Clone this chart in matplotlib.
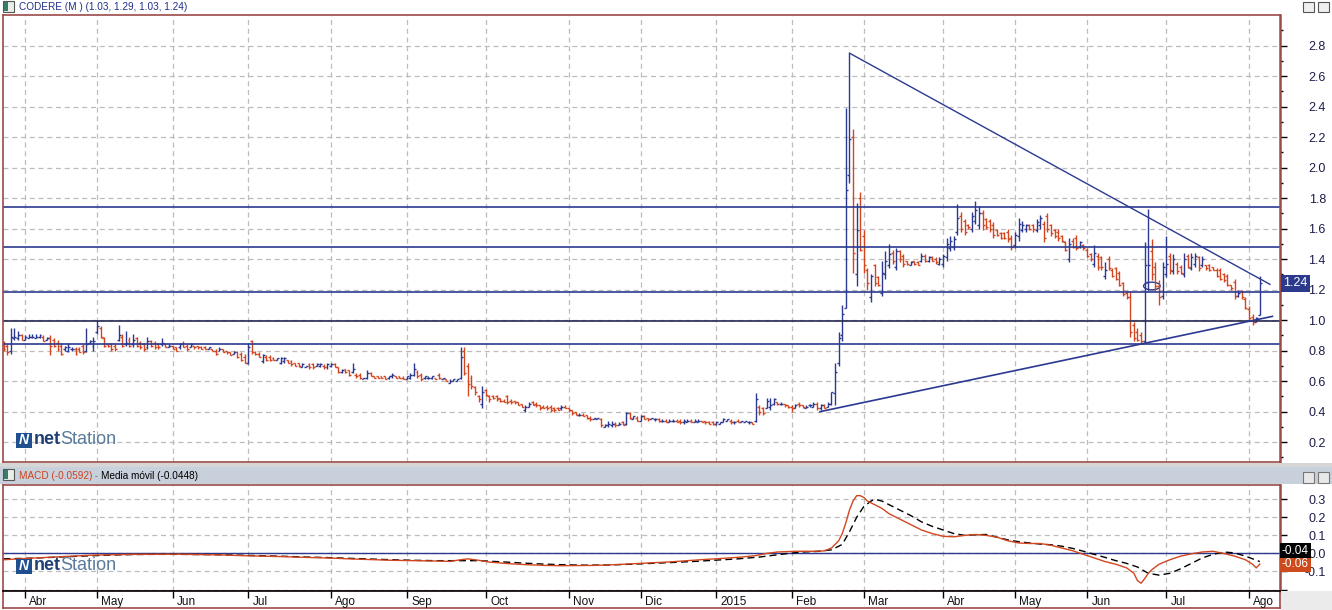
import matplotlib.pyplot as plt
from matplotlib.patches import Rectangle, Ellipse
from matplotlib.transforms import blended_transform_factory
import numpy as np

plt.rcParams['font.family'] = ['Liberation Sans', 'DejaVu Sans']
plt.rcParams['axes.unicode_minus'] = False

# daily OHLC bars, CODERE
opens = [
    .85, .83, .80, .88, .88, .90, .87, .88, .89, .88,
    .89, .89, .87, .88, .87, .85, .83, .81, .80, .81,
    .81, .81, .83, .80, .85, .83, .92, .95, .88, .84,
    .84, .83, .87, .89, .84, .87, .84, .88, .85, .84,
    .82, .86, .85, .84, .84, .84, .82, .83, .82, .82,
    .85, .83, .82, .83, .83, .82, .82, .81, .81, .80,
    .80, .81, .80, .79, .78, .79, .78, .76, .72, .86,
    .79, .78, .73, .76, .76, .75, .74, .72, .73, .74,
    .73, .72, .72, .69, .69, .71, .71, .70, .70, .70,
    .69, .70, .71, .69, .66, .68, .67, .66, .64, .64,
    .61, .62, .65, .63, .63, .63, .63, .62, .63, .63,
    .63, .62, .61, .62, .64, .66, .64, .62, .62, .62,
    .62, .64, .61, .61, .59, .60, .60, .62, .80, .70,
    .62, .56, .50, .45, .54, .50, .50, .50, .49, .47,
    .50, .47, .47, .46, .45, .41, .43, .46, .45, .44,
    .43, .43, .43, .42, .42, .42, .43, .42, .41, .40,
    .38, .38, .38, .36, .35, .35, .35, .30, .31, .31,
    .32, .31, .33, .32, .39, .35, .36, .34, .37, .36,
    .35, .35, .35, .34, .34, .33, .34, .34, .34, .33,
    .33, .34, .33, .33, .34, .34, .33, .33, .32, .32,
    .33, .34, .34, .33, .34, .33, .33, .33, .33, .34,
    .43, .42, .42, .43, .45, .46, .45, .45, .44, .43,
    .42, .45, .44, .42, .44, .43, .45, .42, .44, .43,
    .45, .52, .72, .90, 1.08, 1.95, 2.20, 1.30, 1.80, 1.55,
    1.33, 1.15, 1.36, 1.28, 1.18, 1.30, 1.36, 1.44, 1.35, 1.45,
    1.42, 1.39, 1.36, 1.39, 1.38, 1.39, 1.42, 1.39, 1.41, 1.40,
    1.37, 1.37, 1.41, 1.47, 1.48, 1.58, 1.68, 1.65, 1.62, 1.60,
    1.65, 1.62, 1.70, 1.66, 1.65, 1.62, 1.59, 1.57, 1.57, 1.58,
    1.54, 1.49, 1.55, 1.59, 1.60, 1.62, 1.62, 1.59, 1.62, 1.63,
    1.68, 1.62, 1.59, 1.58, 1.55, 1.51, 1.40, 1.52, 1.54, 1.48,
    1.49, 1.46, 1.43, 1.37, 1.42, 1.41, 1.29, 1.40, 1.33, 1.34,
    1.31, 1.24, 1.18, 1.15, .97, .92, .90, .86, 1.25, 1.45,
    1.35, 1.22, 1.16, 1.30, 1.42, 1.32, 1.37, 1.35, 1.30, 1.42,
    1.34, 1.37, 1.41, 1.36, 1.36, 1.36, 1.35, 1.33, 1.33, 1.30,
    1.29, 1.23, 1.25, 1.16, 1.19, 1.14, 1.07, 1.02, .99, 1.03,
]
highs = [
    .86, .84, .95, .95, .93, .91, .90, .91, .91, .91,
    .91, .90, .89, .90, .88, .87, .85, .83, .85, .82,
    .82, .82, .84, .95, .87, .89, 1.00, .96, .89, .85,
    .85, .84, .97, .91, .93, .89, .91, .89, .86, .85,
    .89, .87, .86, .85, .88, .84, .84, .83, .82, .85,
    .86, .84, .85, .83, .83, .83, .83, .82, .81, .81,
    .82, .81, .80, .79, .80, .80, .79, .78, .85, .87,
    .80, .79, .78, .77, .77, .76, .75, .76, .76, .74,
    .74, .72, .72, .72, .70, .72, .72, .72, .72, .71,
    .72, .72, .72, .69, .68, .68, .67, .72, .65, .65,
    .62, .67, .66, .63, .63, .63, .63, .63, .65, .63,
    .63, .63, .63, .65, .72, .67, .65, .63, .63, .63,
    .62, .65, .62, .61, .61, .61, .61, .82, .82, .72,
    .64, .57, .51, .57, .55, .51, .51, .51, .49, .48,
    .51, .48, .47, .46, .45, .44, .46, .47, .46, .44,
    .44, .44, .44, .43, .43, .44, .44, .42, .41, .40,
    .39, .39, .38, .37, .36, .36, .36, .32, .34, .34,
    .33, .33, .34, .40, .40, .37, .37, .38, .38, .36,
    .36, .36, .36, .35, .35, .35, .35, .35, .35, .35,
    .35, .35, .35, .35, .34, .34, .34, .34, .34, .33,
    .36, .35, .35, .34, .35, .34, .34, .34, .33, .52,
    .44, .43, .49, .49, .49, .46, .46, .45, .44, .44,
    .45, .46, .44, .44, .45, .46, .46, .45, .45, .46,
    .53, .72, .92, 1.10, 2.39, 2.75, 2.25, 1.77, 1.84, 1.59,
    1.34, 1.30, 1.37, 1.29, 1.39, 1.45, 1.50, 1.46, 1.47, 1.46,
    1.43, 1.39, 1.39, 1.39, 1.39, 1.44, 1.43, 1.42, 1.42, 1.41,
    1.41, 1.43, 1.54, 1.55, 1.55, 1.76, 1.71, 1.66, 1.63, 1.71,
    1.78, 1.75, 1.72, 1.67, 1.66, 1.64, 1.60, 1.58, 1.58, 1.60,
    1.56, 1.58, 1.67, 1.65, 1.63, 1.63, 1.63, 1.66, 1.69, 1.65,
    1.70, 1.63, 1.60, 1.60, 1.56, 1.52, 1.54, 1.54, 1.56, 1.52,
    1.50, 1.47, 1.44, 1.49, 1.44, 1.42, 1.38, 1.42, 1.34, 1.35,
    1.32, 1.25, 1.19, 1.19, .99, .95, .92, 1.51, 1.73, 1.53,
    1.38, 1.26, 1.38, 1.55, 1.44, 1.43, 1.38, 1.36, 1.44, 1.43,
    1.44, 1.44, 1.42, 1.42, 1.36, 1.37, 1.35, 1.34, 1.34, 1.31,
    1.30, 1.23, 1.27, 1.20, 1.20, 1.15, 1.09, 1.04, 1.02, 1.29,
]
lows = [
    .80, .77, .78, .87, .87, .87, .87, .88, .88, .88,
    .88, .86, .87, .77, .82, .80, .77, .80, .79, .80,
    .77, .79, .78, .79, .84, .80, .91, .88, .82, .82,
    .80, .80, .86, .82, .83, .82, .82, .82, .81, .80,
    .81, .82, .81, .81, .83, .82, .82, .81, .80, .81,
    .82, .80, .82, .81, .81, .81, .81, .81, .80, .77,
    .80, .79, .78, .77, .78, .75, .73, .72, .71, .78,
    .77, .76, .72, .73, .73, .74, .74, .71, .72, .72,
    .70, .70, .69, .69, .69, .68, .68, .70, .69, .68,
    .68, .69, .69, .65, .65, .65, .63, .65, .62, .61,
    .61, .61, .63, .62, .62, .62, .61, .61, .62, .62,
    .62, .61, .61, .61, .63, .62, .60, .61, .61, .61,
    .61, .61, .61, .60, .59, .60, .60, .61, .64, .50,
    .55, .51, .46, .42, .50, .46, .48, .47, .46, .46,
    .45, .45, .45, .44, .43, .40, .43, .44, .43, .41,
    .42, .41, .40, .40, .41, .41, .42, .40, .38, .38,
    .37, .37, .35, .34, .35, .35, .30, .30, .30, .30,
    .30, .31, .31, .31, .35, .35, .34, .34, .35, .34,
    .35, .34, .33, .33, .33, .33, .33, .33, .32, .32,
    .33, .33, .33, .33, .33, .32, .32, .31, .31, .32,
    .33, .34, .32, .32, .33, .33, .33, .32, .32, .33,
    .38, .38, .42, .41, .44, .44, .44, .43, .42, .40,
    .42, .43, .42, .42, .43, .43, .41, .41, .42, .43,
    .44, .44, .70, .86, 1.08, 1.90, 1.31, 1.22, 1.45, 1.31,
    1.20, 1.12, 1.22, 1.22, 1.16, 1.27, 1.34, 1.37, 1.33, 1.38,
    1.35, 1.36, 1.36, 1.36, 1.36, 1.38, 1.38, 1.38, 1.39, 1.37,
    1.36, 1.35, 1.39, 1.45, 1.46, 1.56, 1.58, 1.56, 1.60, 1.58,
    1.63, 1.60, 1.59, 1.60, 1.58, 1.54, 1.55, 1.53, 1.53, 1.51,
    1.46, 1.47, 1.52, 1.58, 1.58, 1.59, 1.58, 1.58, 1.60, 1.51,
    1.58, 1.55, 1.54, 1.52, 1.51, 1.45, 1.38, 1.47, 1.46, 1.47,
    1.46, 1.41, 1.39, 1.35, 1.33, 1.33, 1.27, 1.33, 1.28, 1.26,
    1.22, 1.16, 1.14, .89, .86, .86, .85, .85, 1.19, 1.26,
    1.19, 1.10, 1.14, 1.28, 1.30, 1.30, 1.30, 1.30, 1.28, 1.34,
    1.33, 1.35, 1.32, 1.35, 1.33, 1.32, 1.33, 1.28, 1.26, 1.25,
    1.22, 1.20, 1.14, 1.15, 1.14, 1.07, 1.00, .97, .99, 1.03,
]
closes = [
    .81, .79, .89, .89, .90, .87, .89, .89, .89, .89,
    .90, .86, .88, .83, .83, .81, .78, .82, .82, .81,
    .78, .79, .79, .84, .86, .86, .96, .89, .83, .83,
    .81, .81, .90, .83, .85, .83, .87, .83, .82, .81,
    .86, .83, .82, .82, .85, .82, .83, .81, .80, .84,
    .82, .81, .84, .82, .82, .81, .81, .82, .80, .78,
    .81, .79, .79, .77, .79, .76, .74, .72, .82, .79,
    .78, .76, .77, .74, .74, .74, .75, .75, .75, .72,
    .71, .70, .70, .71, .70, .69, .69, .71, .71, .69,
    .71, .71, .69, .66, .67, .66, .64, .68, .63, .62,
    .62, .65, .63, .62, .62, .62, .61, .63, .64, .62,
    .62, .61, .63, .64, .68, .63, .61, .63, .62, .63,
    .61, .62, .62, .60, .60, .61, .61, .76, .65, .58,
    .57, .53, .48, .53, .51, .48, .49, .48, .47, .46,
    .46, .46, .46, .44, .43, .43, .45, .44, .44, .42,
    .42, .42, .41, .41, .41, .43, .42, .41, .39, .38,
    .38, .37, .36, .35, .36, .36, .31, .31, .32, .32,
    .31, .32, .31, .39, .36, .37, .34, .37, .35, .35,
    .36, .35, .34, .34, .33, .34, .34, .33, .33, .34,
    .34, .33, .34, .34, .33, .33, .32, .32, .33, .33,
    .35, .35, .33, .33, .33, .34, .34, .33, .32, .48,
    .40, .39, .47, .44, .48, .45, .45, .44, .43, .42,
    .44, .44, .43, .43, .44, .45, .42, .44, .42, .45,
    .53, .66, .88, 1.04, 1.85, 2.19, 1.44, 1.59, 1.46, 1.36,
    1.24, 1.29, 1.24, 1.23, 1.31, 1.39, 1.43, 1.39, 1.45, 1.40,
    1.37, 1.37, 1.38, 1.37, 1.36, 1.42, 1.39, 1.41, 1.39, 1.38,
    1.40, 1.42, 1.50, 1.52, 1.53, 1.67, 1.60, 1.58, 1.61, 1.68,
    1.72, 1.70, 1.62, 1.61, 1.60, 1.56, 1.56, 1.54, 1.54, 1.53,
    1.48, 1.56, 1.63, 1.62, 1.62, 1.60, 1.60, 1.64, 1.67, 1.54,
    1.60, 1.57, 1.55, 1.54, 1.52, 1.46, 1.50, 1.48, 1.47, 1.51,
    1.47, 1.42, 1.40, 1.44, 1.35, 1.35, 1.33, 1.34, 1.29, 1.27,
    1.23, 1.17, 1.15, .92, .88, .87, .86, 1.36, 1.36, 1.30,
    1.22, 1.15, 1.35, 1.37, 1.33, 1.40, 1.32, 1.31, 1.40, 1.35,
    1.41, 1.42, 1.34, 1.40, 1.34, 1.33, 1.33, 1.29, 1.27, 1.26,
    1.23, 1.21, 1.16, 1.18, 1.15, 1.08, 1.01, .99, 1.01, 1.24,
]

month_idx = [6, 26, 47, 68, 91, 112, 134, 157, 177, 198, 219, 239, 261, 281, 301, 323, 346]
month_lbl = ["Abr", "May", "Jun", "Jul", "Ago", "Sep", "Oct", "Nov", "Dic",
             "2015", "Feb", "Mar", "Abr", "May", "Jun", "Jul", "Ago"]

# drawn support / resistance levels and trend lines
levels = [1.739, 1.477, 1.184, 0.845]
level_one = 0.993
trend_down_x = [235, 351.8]
trend_down_y = [2.75, 1.234]
trend_up_x = [226.8, 352.5]
trend_up_y = [0.399, 1.024]
mark_x, mark_y = 319, 1.223

# MACD and its moving average
macd_x = [0, 6, 12, 18, 24, 30, 36, 42, 48, 54, 60, 66, 72, 78, 84, 90, 96, 102, 108, 114,
          120, 124, 127, 129, 132, 135, 140, 145, 150, 155, 160, 165, 170, 175, 180, 185, 190, 195, 200, 205,
          209, 212, 215, 220, 225, 228, 230, 232, 233, 234, 235, 236, 237, 238, 239, 240, 242, 244, 246, 249,
          252, 255, 258, 261, 264, 267, 270, 273, 276, 279, 282, 285, 288, 291, 294, 297, 300, 303, 306, 309,
          312, 314, 315, 316, 317, 318, 319, 321, 324, 327, 330, 333, 336, 339, 342, 345, 347, 348, 349]
macd_y = [-0.035, -0.028, -0.022, -0.016, -0.010, -0.007, -0.005, -0.005, -0.004, -0.006,
          -0.008, -0.012, -0.015, -0.018, -0.022, -0.025, -0.030, -0.034, -0.038, -0.040,
          -0.042, -0.044, -0.035, -0.030, -0.038, -0.048, -0.056, -0.062, -0.066, -0.068,
          -0.067, -0.066, -0.062, -0.057, -0.052, -0.047, -0.040, -0.033, -0.027, -0.020,
          -0.012, 0.0, 0.008, 0.012, 0.012, 0.014, 0.03, 0.07, 0.11, 0.17,
          0.24, 0.29, 0.32, 0.32, 0.31, 0.29, 0.27, 0.25, 0.22, 0.19,
          0.16, 0.13, 0.11, 0.095, 0.092, 0.10, 0.105, 0.10, 0.09, 0.07,
          0.058, 0.055, 0.055, 0.045, 0.03, 0.015, -0.005, -0.025, -0.045, -0.06,
          -0.08, -0.11, -0.15, -0.165, -0.14, -0.11, -0.09, -0.06, -0.035, -0.015,
          -0.002, 0.008, 0.012, 0.0, -0.015, -0.035, -0.06, -0.08, -0.059]
sig_x = [0, 6, 12, 18, 24, 30, 36, 42, 48, 54, 60, 66, 72, 78, 84, 90, 96, 102, 108, 114, 120,
         126, 132, 138, 144, 150, 156, 162, 168, 174, 180, 186, 192, 198, 204, 210, 214, 218, 222, 226, 230,
         233, 235, 237, 239, 241, 242, 244, 246, 249, 252, 255, 258, 261, 264, 267, 270, 273, 276, 279, 282,
         285, 288, 291, 294, 297, 300, 303, 306, 309, 312, 315, 318, 321, 324, 327, 330, 333, 336, 339, 342,
         345, 349]
sig_y = [-0.030, -0.027, -0.023, -0.018, -0.013, -0.009, -0.006, -0.005, -0.005, -0.006,
         -0.007, -0.010, -0.013, -0.016, -0.020, -0.023, -0.027, -0.031, -0.035, -0.038, -0.040,
         -0.040, -0.040, -0.046, -0.053, -0.059, -0.063, -0.065, -0.064, -0.060, -0.055,
         -0.050, -0.044, -0.037, -0.030, -0.020, -0.010, 0.0, 0.008, 0.011, 0.02,
         0.05, 0.12, 0.20, 0.26, 0.29, 0.30, 0.29, 0.27, 0.24, 0.21,
         0.175, 0.15, 0.13, 0.11, 0.10, 0.103, 0.105, 0.09, 0.075, 0.065,
         0.058, 0.052, 0.048, 0.04, 0.028, 0.012, -0.005, -0.022, -0.04, -0.055,
         -0.075, -0.11, -0.12, -0.11, -0.085, -0.055, -0.025, -0.005, 0.008, 0.003,
         -0.015, -0.045]
macd_last, sig_last = -0.0592, -0.0448

BLUE = "#2b3990"
RED = "#d2461f"
FRAME = "#9c4a48"
GRID = "#bdbdbd"
W, H = 1332, 610


def box(l, t, r, b):
    return [l / W, 1 - b / H, (r - l) / W, (b - t) / H]


fig = plt.figure(figsize=(W / 100, H / 100), dpi=100)
fig.patch.set_facecolor("white")

xlim = (-0.14, 354.6)


def frame(a):
    for s in a.spines.values():
        s.set_color(FRAME)
        s.set_linewidth(1.2)
    a.spines["right"].set_linewidth(1.8)


def right_labels(a):
    # labels flush right at the edge of the window, like the terminal does
    a.tick_params(axis="y", which="major", length=5, width=1, pad=28, labelsize=9,
                  labelcolor="#1c1c4a")
    for t in a.get_yticklabels():
        t.set_horizontalalignment("right")


def logo(yc):
    fig.add_artist(Rectangle((16 / W, 1 - (yc + 8) / H), 16 / W, 15 / H,
                             transform=fig.transFigure, fc="#1f4f8f", ec="none"))
    fig.text(24 / W, 1 - yc / H, "N", color="white", fontsize=10, fontweight="bold",
             style="italic", ha="center", va="center")
    fig.text(34 / W, 1 - yc / H, "net", color="#1f4075", fontsize=13,
             fontweight="bold", va="center")
    fig.text(60 / W, 1 - yc / H, "Station", color="#5b7b9b", fontsize=13, va="center")


# ---------------- price panel ----------------
ax = fig.add_axes(box(3, 15, 1280, 462))
x = np.arange(len(closes))
o, h, l, c = map(np.array, (opens, highs, lows, closes))
cols = np.where(c >= o, BLUE, RED)
ax.vlines(x, l, h, colors=cols, lw=1.0)
ax.hlines(o, x - 0.55, x, colors=cols, lw=1.0)
ax.hlines(c, x, x + 0.55, colors=cols, lw=1.0)

for lv in levels:
    ax.axhline(lv, color=BLUE, lw=1.2)
ax.axhline(level_one, color="#26284f", lw=1.2)
ax.plot(trend_down_x, trend_down_y, color=BLUE, lw=1.0)
ax.plot(trend_up_x, trend_up_y, color=BLUE, lw=1.2)
ax.add_patch(Ellipse((mark_x, mark_y), 4.6, 0.05, fill=False, ec=BLUE, lw=1.0))

ax.set_xlim(*xlim)
ax.set_ylim(0.069, 3.0)
ax.set_xticks(month_idx)
yt = np.arange(0.2, 2.81, 0.2)
ax.set_yticks(yt)
ax.set_yticks(np.arange(0.1, 2.95, 0.2), minor=True)
ax.yaxis.tick_right()
ax.set_yticklabels([f"{v:.1f}" for v in yt])
ax.tick_params(axis="x", length=0, labelbottom=False)
ax.tick_params(axis="y", which="minor", length=2.5, width=1)
right_labels(ax)
ax.grid(True, color=GRID, ls=(0, (4, 3)), lw=0.9)
ax.set_axisbelow(True)
frame(ax)

tr = blended_transform_factory(ax.transAxes, ax.transData)
ax.text(1.0025, closes[-1], f"{closes[-1]:.2f}", transform=tr, color="white", fontsize=9,
        va="center", ha="left", clip_on=False,
        bbox=dict(boxstyle="square,pad=0.2", fc="#2b3a8c", ec="none"))

# ---------------- MACD panel ----------------
am = fig.add_axes(box(3, 485, 1280, 591))
am.axhline(0, color=BLUE, lw=1.0)
am.plot(sig_x, sig_y, color="black", lw=1.0, ls=(0, (5, 3)))
am.plot(macd_x, macd_y, color=RED, lw=1.0)
am.set_xlim(*xlim)
am.set_ylim(-0.208, 0.379)
am.set_xticks(month_idx)
mt = [-0.1, 0.0, 0.1, 0.2, 0.3]
am.set_yticks(mt)
am.set_yticks([-0.2], minor=True)
am.yaxis.tick_right()
am.set_yticklabels([f"{v:.1f}" for v in mt])
am.tick_params(axis="x", length=0, labelbottom=False)
am.tick_params(axis="y", which="minor", length=5, width=1)
right_labels(am)
am.grid(True, color=GRID, ls=(0, (4, 3)), lw=0.9)
am.yaxis.grid(True, which="minor", color=GRID, ls=(0, (4, 3)), lw=0.9)
am.set_axisbelow(True)
frame(am)

trm = blended_transform_factory(am.transAxes, am.transData)
am.text(1.0015, macd_last, "-0.06", transform=trm, color="white", fontsize=8.5,
        va="center", ha="left", clip_on=False,
        bbox=dict(boxstyle="square,pad=0.15", fc="#cc4a1c", ec="none"))
am.text(1.0015, macd_last + 0.075, "-0.04", transform=trm, color="white", fontsize=8.5,
        va="center", ha="left", clip_on=False,
        bbox=dict(boxstyle="square,pad=0.15", fc="black", ec="none"))

# ---------------- date strip ----------------
ad = fig.add_axes(box(3, 591, 1280, 608))
ad.set_xlim(*xlim)
ad.set_ylim(0, 1)
ad.set_yticks([])
ad.set_xticks(month_idx)
ad.tick_params(axis="x", top=True, bottom=False, direction="in", length=5,
               width=1, labelbottom=False)
for s in ad.spines.values():
    s.set_color(FRAME)
    s.set_linewidth(1.2)
ad.spines["top"].set_color("black")
for mi, ml in zip(month_idx, month_lbl):
    ad.text(mi + 1.2, 0.35, ml, fontsize=8.5, color="#111111", ha="left", va="center")

# ---------------- chrome ----------------
fig.add_artist(Rectangle((1281 / W, 0), 51 / W, 19 / H, transform=fig.transFigure,
                         fc="#ebebeb", ec="none"))
fig.add_artist(Rectangle((0, 1 - 467 / H), 1, 4 / H, transform=fig.transFigure,
                         fc="#d6d6d6", ec="none"))
fig.add_artist(Rectangle((0, 1 - 484 / H), 1, 17 / H, transform=fig.transFigure,
                         fc="#c8d0db", ec="none"))
for bx in (1303, 1318):
    fig.add_artist(Rectangle((bx / W, 1 - 12 / H), 11 / W, 10 / H, transform=fig.transFigure,
                             fc="#f0f0f0", ec="#555555", lw=0.8))
    fig.add_artist(Rectangle((bx / W, 1 - 483 / H), 11 / W, 11 / H, transform=fig.transFigure,
                             fc="#e8e8e8", ec="#777777", lw=0.8))
for ytop in (1, 469):
    fig.add_artist(Rectangle((3 / W, 1 - (ytop + 11) / H), 11 / W, 11 / H, transform=fig.transFigure,
                             fc="#e8efe8", ec="#555555", lw=0.8))
    fig.add_artist(Rectangle((4 / W, 1 - (ytop + 10) / H), 4 / W, 9 / H, transform=fig.transFigure,
                             fc="#3a7a6a", ec="none"))

title = f"CODERE (M ) ({opens[-1]:.2f}, {highs[-1]:.2f}, {lows[-1]:.2f}, {closes[-1]:.2f})"
fig.text(19 / W, 1 - 7 / H, title, color="#1f2f8a", fontsize=7.2, va="center")

t1 = fig.text(19 / W, 1 - 476 / H, f"MACD ({macd_last:.4f})", color="#d0401c",
              fontsize=7.2, va="center")
t2 = fig.text(0, 0, " - ", color="#777777", fontsize=7.2, va="center")
t3 = fig.text(0, 0, f"Media móvil ({sig_last:.4f})", color="black", fontsize=7.2, va="center")
fig.canvas.draw()
bb1 = t1.get_window_extent()
t2.set_position((bb1.x1 / W, 1 - 476 / H))
fig.canvas.draw()
bb2 = t2.get_window_extent()
t3.set_position((bb2.x1 / W, 1 - 476 / H))

logo(440)
logo(566)

fig.savefig("out.png", dpi=100, facecolor="white")
